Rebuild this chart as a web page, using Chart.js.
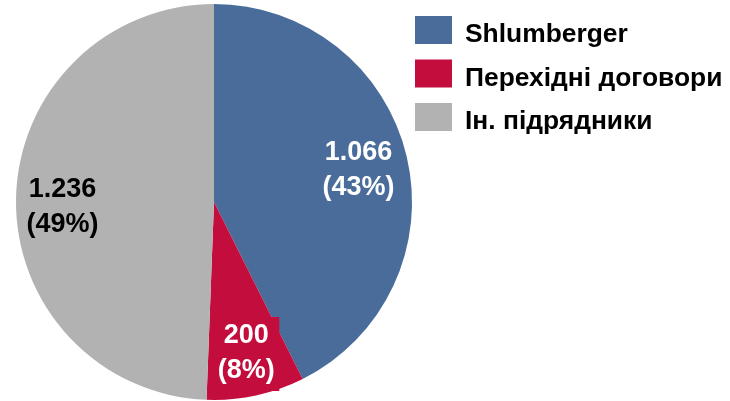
<!DOCTYPE html>
<html>
<head>
<meta charset="utf-8">
<script src="https://cdn.jsdelivr.net/npm/chart.js@4"></script>
<style>
  html, body { margin: 0; padding: 0; background: #fff; }
  #wrap { width: 730px; height: 401px; position: relative; }
</style>
</head>
<body>
<div id="wrap"><canvas id="chart"></canvas></div>
<script>
const categories = ['Shlumberger', 'Перехідні договори', 'Ін. підрядники'];
const values = [1066, 200, 1236];
const sliceColors = ['#4a6c9b', '#c20d3d', '#b2b2b2'];
const labelColors = ['#ffffff', '#ffffff', '#000000'];
const labelBoxes = [false, true, false]; // small slice gets a filled box behind its label
const labelShift = [0, 0, -2]; // degrees, moves label along the arc
const labelRadius = [0.75, 0.77, 0.765];

const FONT = '"Liberation Sans", Arial, Helvetica, sans-serif';
const total = values.reduce((s, v) => s + v, 0);

function fmt(v) {
  return String(v).replace(/\B(?=(\d{3})+(?!\d))/g, '.');
}

// labels inside slices
const sliceLabels = {
  id: 'sliceLabels',
  afterDatasetsDraw(chart) {
    const ctx = chart.ctx;
    const meta = chart.getDatasetMeta(0);
    ctx.save();
    ctx.font = 'bold 27px ' + FONT;
    ctx.textAlign = 'center';
    ctx.textBaseline = 'alphabetic';
    const lineH = 35;
    meta.data.forEach((arc, i) => {
      const p = arc.getProps(['x', 'y', 'startAngle', 'endAngle', 'outerRadius'], true);
      const mid = (p.startAngle + p.endAngle) / 2 + labelShift[i] * Math.PI / 180;
      const r = p.outerRadius * labelRadius[i];
      const cx = p.x + Math.cos(mid) * r;
      const cy = p.y + Math.sin(mid) * r;
      const lines = [fmt(values[i]), '(' + Math.round(values[i] / total * 100) + '%)'];
      if (labelBoxes[i]) {
        const w = Math.max(...lines.map(t => ctx.measureText(t).width)) + 9;
        const h = lineH * 2 + 4;
        ctx.fillStyle = sliceColors[i];
        ctx.fillRect(cx - w / 2, cy - h / 2 + 3, w, h);
      }
      ctx.fillStyle = labelColors[i];
      // two lines, block centred on (cx, cy)
      const base1 = cy - lineH / 2 + 10;
      lines.forEach((t, k) => ctx.fillText(t, cx, base1 + k * lineH));
    });
    ctx.restore();
  }
};

// legend at the top right
const sideLegend = {
  id: 'sideLegend',
  afterDraw(chart) {
    const ctx = chart.ctx;
    const x0 = chart.chartArea.right + 3;
    const top = 30;
    const step = 43.5;
    ctx.save();
    ctx.font = 'bold 26.4px ' + FONT;
    ctx.textAlign = 'left';
    ctx.textBaseline = 'alphabetic';
    categories.forEach((name, i) => {
      const cy = top + i * step;
      ctx.fillStyle = sliceColors[i];
      ctx.fillRect(x0, cy - 14, 37, 28);
      ctx.fillStyle = '#000';
      ctx.fillText(name, x0 + 50, cy + 12);
    });
    ctx.restore();
  }
};

new Chart(document.getElementById('chart'), {
  type: 'pie',
  data: {
    labels: categories,
    datasets: [{
      data: values,
      backgroundColor: sliceColors,
      borderWidth: 0
    }]
  },
  options: {
    responsive: true,
    maintainAspectRatio: false,
    animation: false,
    layout: { padding: { left: 16, right: 318, top: 4, bottom: 1 } },
    plugins: {
      legend: { display: false },
      tooltip: { enabled: false }
    }
  },
  plugins: [sliceLabels, sideLegend]
});
</script>
</body>
</html>
